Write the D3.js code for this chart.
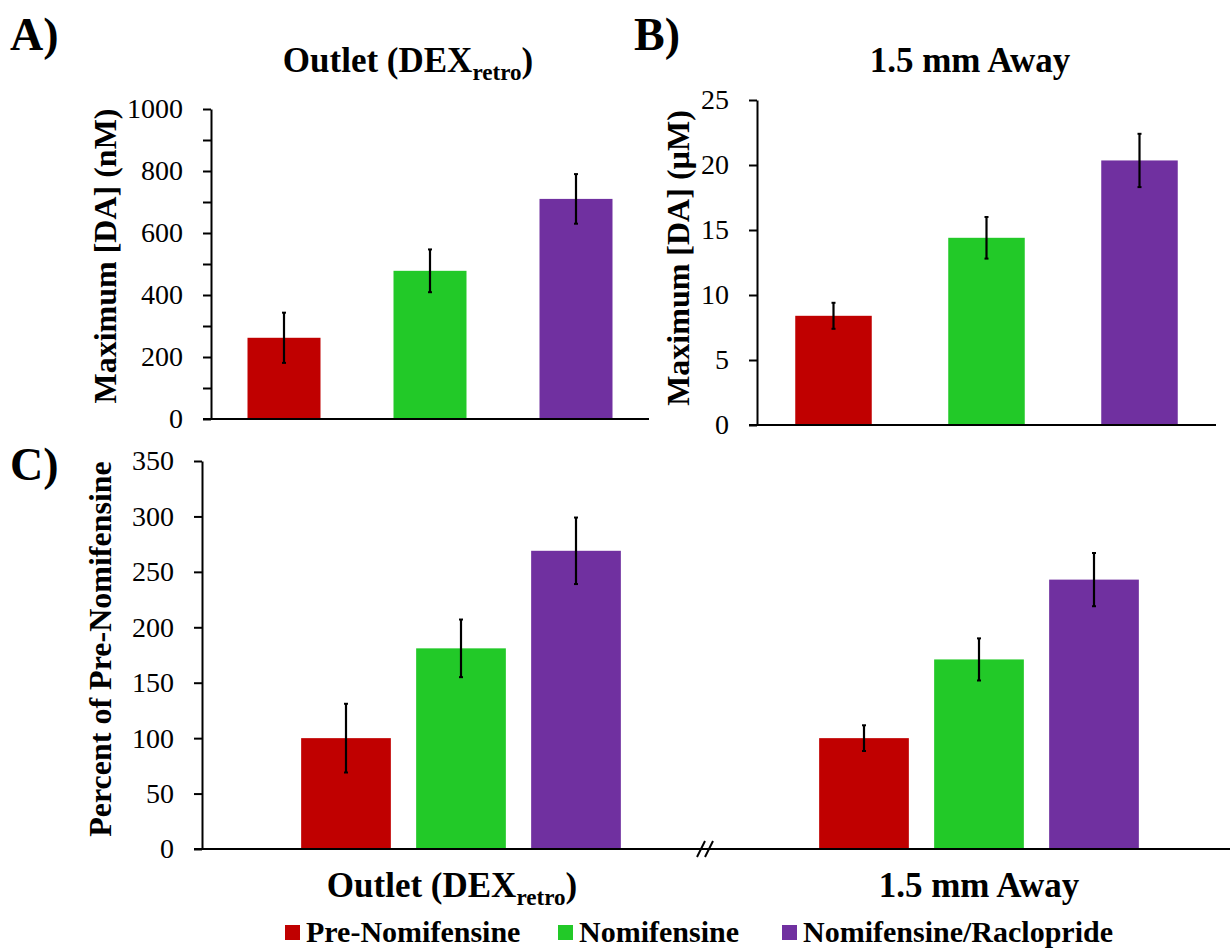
<!DOCTYPE html>
<html>
<head>
<meta charset="utf-8">
<title>Maximum DA</title>
<script src="https://cdn.jsdelivr.net/npm/d3@7"></script>
<style>
body { margin: 0; background: #fff; }
text { font-family: 'Liberation Serif', 'Times New Roman', serif; fill: #000; }
.tick text { font-size: 28px; }
.bold { font-weight: bold; }
</style>
</head>
<body>
<svg id="chart" width="1230" height="950"></svg>
<script>

var categories = ['Pre-Nomifensine', 'Nomifensine', 'Nomifensine/Raclopride'];
var colors = ['#C00000', '#22C928', '#7030A0'];

// panel A, outlet, nM
var outletNM = [262, 478, 710];
var outletNMErr = [81, 69, 80];
// panel B, 1.5 mm away, uM
var awayUM = [8.4, 14.4, 20.35];
var awayUMErr = [1.0, 1.6, 2.05];
// panel C, percent of pre-nomifensine
var groups = ['outlet', 'away'];
var pctOutlet = [100, 181, 269];
var pctOutletErr = [31, 26, 30];
var pctAway = [100, 171, 243];
var pctAwayErr = [11.6, 19, 24];

var ticksA = [0, 200, 400, 600, 800, 1000];
var minorA = [100, 300, 500, 700, 900];
var ticksB = [0, 5, 10, 15, 20, 25];
var ticksC = [0, 50, 100, 150, 200, 250, 300, 350];

var svg = d3.select('#chart');

function outletTitle(sel, x, y, size) {
	var t = sel.append('text')
		.attr('class', 'bold')
		.attr('x', x).attr('y', y)
		.attr('text-anchor', 'middle')
		.style('font-size', size + 'px');
	t.append('tspan').text('Outlet (DEX');
	t.append('tspan').text('retro').style('font-size', (size * 0.66) + 'px').attr('dy', 8);
	t.append('tspan').text(')').attr('dy', -8);
	return t;
}

function yAxis(g, y, x0, ticks) {
	var ax = g.append('g')
		.attr('transform', 'translate(' + x0 + ',0)')
		.call(d3.axisLeft(y).tickValues(ticks).tickSize(8).tickSizeOuter(0).tickPadding(20).tickFormat(d3.format('d')));
	ax.selectAll('path, line').attr('stroke', '#000').attr('stroke-width', 2);
	ax.selectAll('text').attr('font-family', null).attr('font-size', null);
	return ax;
}

function yLabel(g, text, x, y) {
	g.append('text')
		.attr('class', 'bold')
		.attr('transform', 'translate(' + x + ',' + y + ') rotate(-90)')
		.attr('text-anchor', 'middle')
		.style('font-size', '32px')
		.text(text);
}

function drawBars(g, x, y, vals, errs, offset) {
	var data = vals.map(function(v, i) { return {i: i, v: v, e: errs[i]}; });
	g.selectAll(null)
		.data(data)
		.enter()
		.append('rect')
		.attr('x', function(d) { return offset + x(categories[d.i]); })
		.attr('width', x.bandwidth())
		.attr('y', function(d) { return y(d.v); })
		.attr('height', function(d) { return y(0) - y(d.v); })
		.attr('fill', function(d) { return colors[d.i]; });

	var eb = g.selectAll(null)
		.data(data)
		.enter()
		.append('g');
	eb.append('line')
		.attr('x1', function(d) { return offset + x(categories[d.i]) + x.bandwidth() / 2; })
		.attr('x2', function(d) { return offset + x(categories[d.i]) + x.bandwidth() / 2; })
		.attr('y1', function(d) { return y(d.v + d.e); })
		.attr('y2', function(d) { return y(d.v - d.e); })
		.attr('stroke', '#000').attr('stroke-width', 2.2);
	[1, -1].forEach(function(s) {
		eb.append('line')
			.attr('x1', function(d) { return offset + x(categories[d.i]) + x.bandwidth() / 2 - 2; })
			.attr('x2', function(d) { return offset + x(categories[d.i]) + x.bandwidth() / 2 + 2; })
			.attr('y1', function(d) { return y(d.v + s * d.e); })
			.attr('y2', function(d) { return y(d.v + s * d.e); })
			.attr('stroke', '#000').attr('stroke-width', 2);
	});
}

// ---------- panel A
var gA = svg.append('g');
var yA = d3.scaleLinear().domain([0, 1000]).range([419, 109]);
var xA = d3.scaleBand().domain(categories).range([211, 649]).paddingInner(0.5).paddingOuter(0.25);
drawBars(gA, xA, yA, outletNM, outletNMErr, 0);
yAxis(gA, yA, 211, ticksA);
gA.append('g')
	.attr('transform', 'translate(211,0)')
	.call(d3.axisLeft(yA).tickValues(minorA).tickSize(8).tickFormat(''))
	.call(function(a) { a.select('.domain').remove(); })
	.selectAll('line').attr('stroke', '#000').attr('stroke-width', 2);
gA.append('line').attr('x1', 203).attr('x2', 649).attr('y1', yA(0)).attr('y2', yA(0))
	.attr('stroke', '#000').attr('stroke-width', 2);
yLabel(gA, 'Maximum [DA] (nM)', 116, 256);
outletTitle(gA, 408, 72, 35);
gA.append('text').attr('class', 'bold').attr('x', 10).attr('y', 50).style('font-size', '46px').text('A)');

// ---------- panel B
var gB = svg.append('g');
var yB = d3.scaleLinear().domain([0, 25]).range([425, 100]);
var xB = d3.scaleBand().domain(categories).range([757, 1216]).paddingInner(0.5).paddingOuter(0.25);
drawBars(gB, xB, yB, awayUM, awayUMErr, 0);
yAxis(gB, yB, 757, ticksB);
gB.append('line').attr('x1', 749).attr('x2', 1216).attr('y1', yB(0)).attr('y2', yB(0))
	.attr('stroke', '#000').attr('stroke-width', 2);
yLabel(gB, 'Maximum [DA] (\u00b5M)', 689, 258);
gB.append('text').attr('class', 'bold').attr('x', 970).attr('y', 72)
	.attr('text-anchor', 'middle').style('font-size', '35px').text('1.5 mm Away');
gB.append('text').attr('class', 'bold').attr('x', 634).attr('y', 50).style('font-size', '46px').text('B)');

// ---------- panel C
var gC = svg.append('g');
var yC = d3.scaleLinear().domain([0, 350]).range([849, 461]);
var xC = d3.scaleBand().domain(groups).range([202, 1238]);
var innerW = 345;
var xInner = d3.scaleBand().domain(categories)
	.range([(xC.bandwidth() - innerW) / 2, (xC.bandwidth() + innerW) / 2])
	.paddingInner(0.22).paddingOuter(0.11);
drawBars(gC, xInner, yC, pctOutlet, pctOutletErr, xC('outlet'));
drawBars(gC, xInner, yC, pctAway, pctAwayErr, xC('away'));
yAxis(gC, yC, 202, ticksC);
gC.append('line').attr('x1', 194).attr('x2', 1230).attr('y1', yC(0)).attr('y2', yC(0))
	.attr('stroke', '#000').attr('stroke-width', 2);
// axis break
var bx = xC('away');
[-4, 4].forEach(function(dx) {
	gC.append('line')
		.attr('x1', bx - 15 + dx - 4).attr('y1', yC(0) + 8)
		.attr('x2', bx - 15 + dx + 4).attr('y2', yC(0) - 8)
		.attr('stroke', '#000').attr('stroke-width', 2);
});
yLabel(gC, 'Percent of Pre-Nomifensine', 111, 649);
outletTitle(gC, xC('outlet') + xC.bandwidth() / 2 - 9, 897, 35);
gC.append('text').attr('class', 'bold').attr('x', xC('away') + xC.bandwidth() / 2).attr('y', 897)
	.attr('text-anchor', 'middle').style('font-size', '35px').text('1.5 mm Away');
gC.append('text').attr('class', 'bold').attr('x', 10).attr('y', 480).style('font-size', '46px').text('C)');

// ---------- legend
var legX = [285, 558, 782];
var leg = svg.append('g');
categories.forEach(function(c, i) {
	leg.append('rect').attr('x', legX[i]).attr('y', 925).attr('width', 15).attr('height', 15).attr('fill', colors[i]);
	leg.append('text').attr('class', 'bold').attr('x', legX[i] + 21).attr('y', 942)
		.style('font-size', '30px').text(c);
});

</script>
</body>
</html>
